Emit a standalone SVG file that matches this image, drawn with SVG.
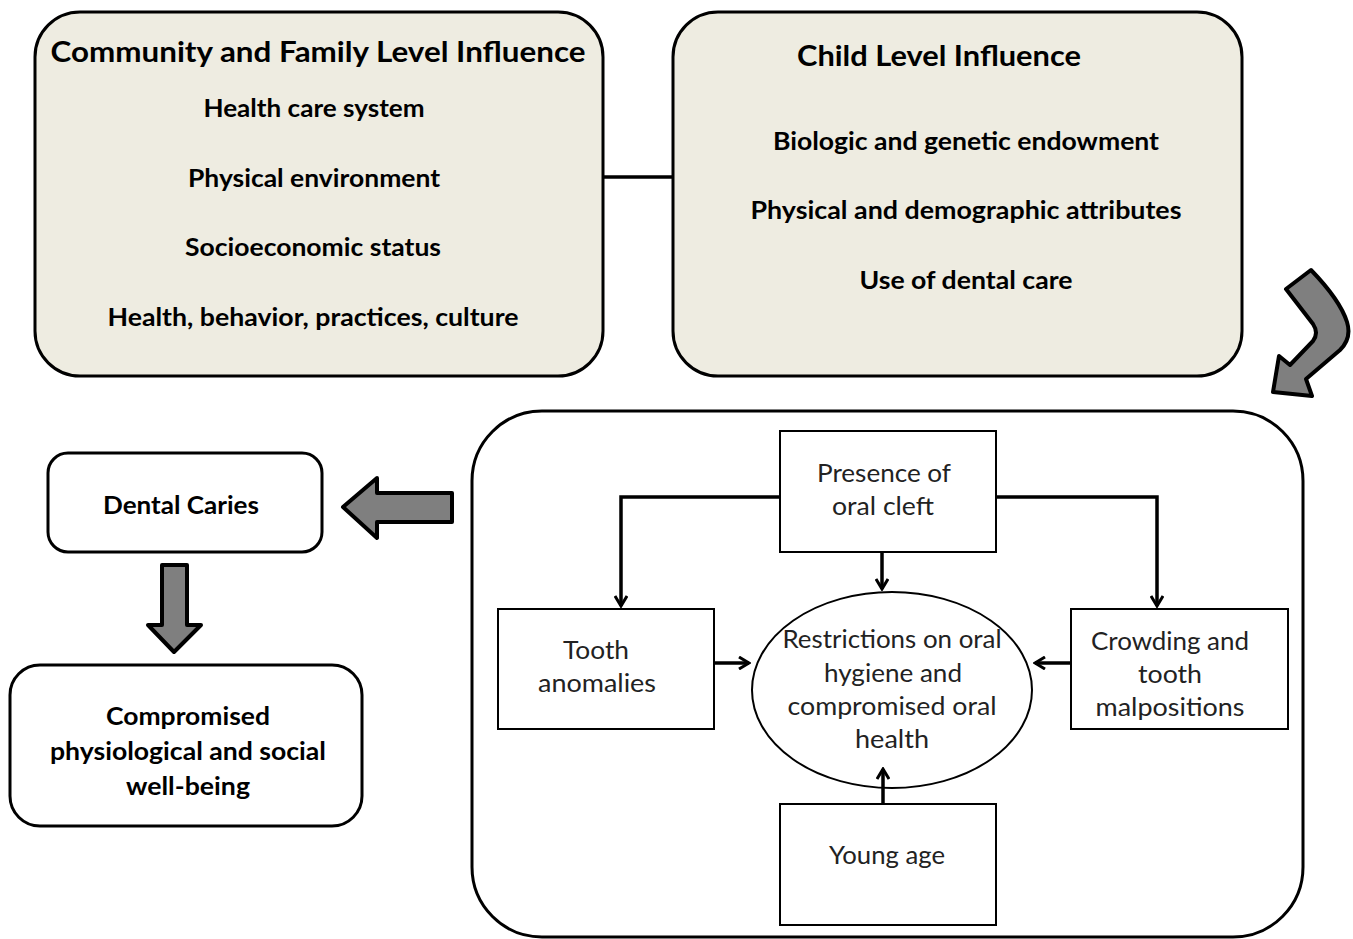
<svg xmlns="http://www.w3.org/2000/svg" width="1353" height="939" viewBox="0 0 1353 939">
<defs>
<style>
.big{fill:#EEECE1;stroke:#000;stroke-width:3}
.rb{fill:#fff;stroke:#000;stroke-width:3}
.bx{fill:#fff;stroke:#000;stroke-width:2}
.ba{fill:#7F7F7F;stroke:#000;stroke-width:4;stroke-linejoin:round}
.ln{fill:none;stroke:#000;stroke-width:3.5}
.h{font-family:Lato,"Liberation Sans",sans-serif;font-weight:bold;fill:#000;text-anchor:middle}
.r{font-family:Lato,"Liberation Sans",sans-serif;fill:#222;text-anchor:middle;font-size:25px}
</style>
<marker id="ar" viewBox="0 0 14 14" refX="12" refY="7" markerWidth="14" markerHeight="14" markerUnits="userSpaceOnUse" orient="auto">
<polyline points="2,1 12,7 2,13" fill="none" stroke="#000" stroke-width="3"/>
</marker>
</defs>
<g id="community">
<rect class="big" x="35" y="12" width="568" height="364" rx="45"/>
<text class="h" x="318" y="62" font-size="28" textLength="535" lengthAdjust="spacingAndGlyphs">Community and Family Level Influence</text>
<text class="h" x="314" y="117" font-size="24" textLength="221" lengthAdjust="spacingAndGlyphs">Health care system</text>
<text class="h" x="314" y="187" font-size="24" textLength="252" lengthAdjust="spacingAndGlyphs">Physical environment</text>
<text class="h" x="313" y="256" font-size="24" textLength="256" lengthAdjust="spacingAndGlyphs">Socioeconomic status</text>
<text class="h" x="313" y="326" font-size="24" textLength="411" lengthAdjust="spacingAndGlyphs">Health, behavior, practices, culture</text>
</g>
<g id="child">
<rect class="big" x="673" y="12" width="569" height="364" rx="45"/>
<text class="h" x="939" y="66" font-size="28" textLength="284" lengthAdjust="spacingAndGlyphs">Child Level Influence</text>
<text class="h" x="966" y="150" font-size="24" textLength="386" lengthAdjust="spacingAndGlyphs">Biologic and genetic endowment</text>
<text class="h" x="966" y="219" font-size="24" textLength="431" lengthAdjust="spacingAndGlyphs">Physical and demographic attributes</text>
<text class="h" x="966" y="289" font-size="24" textLength="213" lengthAdjust="spacingAndGlyphs">Use of dental care</text>
</g>
<g id="oralbox">
<rect class="rb" x="472" y="411" width="831" height="526" rx="70"/>
</g>
<g id="caries">
<rect class="rb" x="48" y="453" width="274" height="99" rx="20"/>
<text class="h" x="181" y="514" font-size="24" textLength="156" lengthAdjust="spacingAndGlyphs">Dental Caries</text>
</g>
<g id="compromised">
<rect class="rb" x="10" y="665" width="352" height="161" rx="30"/>
<text class="h" x="188" y="725" font-size="24" textLength="164" lengthAdjust="spacingAndGlyphs">Compromised</text>
<text class="h" x="188" y="760" font-size="24" textLength="276" lengthAdjust="spacingAndGlyphs">physiological and social</text>
<text class="h" x="188" y="795" font-size="24" textLength="124" lengthAdjust="spacingAndGlyphs">well-being</text>
</g>
<g id="cleft">
<rect class="bx" x="780" y="431" width="216" height="121"/>
<text class="r" x="884" y="482" textLength="134" lengthAdjust="spacingAndGlyphs">Presence of</text>
<text class="r" x="883" y="515" textLength="102" lengthAdjust="spacingAndGlyphs">oral cleft</text>
</g>
<g id="tooth">
<rect class="bx" x="498" y="609" width="216" height="120"/>
<text class="r" x="596" y="659" textLength="66" lengthAdjust="spacingAndGlyphs">Tooth</text>
<text class="r" x="597" y="692" textLength="118" lengthAdjust="spacingAndGlyphs">anomalies</text>
</g>
<g id="crowding">
<rect class="bx" x="1071" y="609" width="217" height="120"/>
<text class="r" x="1170" y="650" textLength="158" lengthAdjust="spacingAndGlyphs">Crowding and</text>
<text class="r" x="1170" y="683" textLength="64" lengthAdjust="spacingAndGlyphs">tooth</text>
<text class="r" x="1170" y="716" textLength="149" lengthAdjust="spacingAndGlyphs">malpositions</text>
</g>
<g id="young">
<rect class="bx" x="780" y="804" width="216" height="121"/>
<text class="r" x="887" y="864" textLength="116" lengthAdjust="spacingAndGlyphs">Young age</text>
</g>
<g id="restrictions">
<ellipse class="bx" cx="892" cy="690" rx="140" ry="98"/>
<text class="r" x="892" y="648" textLength="219" lengthAdjust="spacingAndGlyphs">Restrictions on oral</text>
<text class="r" x="893" y="682" textLength="138" lengthAdjust="spacingAndGlyphs">hygiene and</text>
<text class="r" x="892" y="715" textLength="209" lengthAdjust="spacingAndGlyphs">compromised oral</text>
<text class="r" x="892" y="748" textLength="74" lengthAdjust="spacingAndGlyphs">health</text>
</g>
<g id="connectors">
<line class="ln" x1="603" y1="177" x2="673" y2="177"/>
<polyline class="ln" points="780,497 621,497 621,606" marker-end="url(#ar)"/>
<polyline class="ln" points="996,497 1157,497 1157,606" marker-end="url(#ar)"/>
<line class="ln" x1="882" y1="552" x2="882" y2="589" marker-end="url(#ar)"/>
<line class="ln" x1="714" y1="663" x2="749" y2="663" marker-end="url(#ar)"/>
<line class="ln" x1="1071" y1="663" x2="1035" y2="663" marker-end="url(#ar)"/>
<line class="ln" x1="883" y1="804" x2="883" y2="769" marker-end="url(#ar)"/>
<path class="ba" d="M452,493 L377,493 L377,478 L343,507 L377,538 L377,522 L452,522 Z"/>
<path class="ba" d="M162,565 L187,565 L187,625 L201,625 L174,652 L148,625 L162,625 Z"/>
<path class="ba" d="M1286,289 L1311,270 Q1340,300 1347,322 Q1352,338 1340,350 L1306,379 L1312,396 L1273,392 L1279,356 L1290,365 L1313,341 Q1319,333 1313,324 Z"/>
</g>
</svg>
